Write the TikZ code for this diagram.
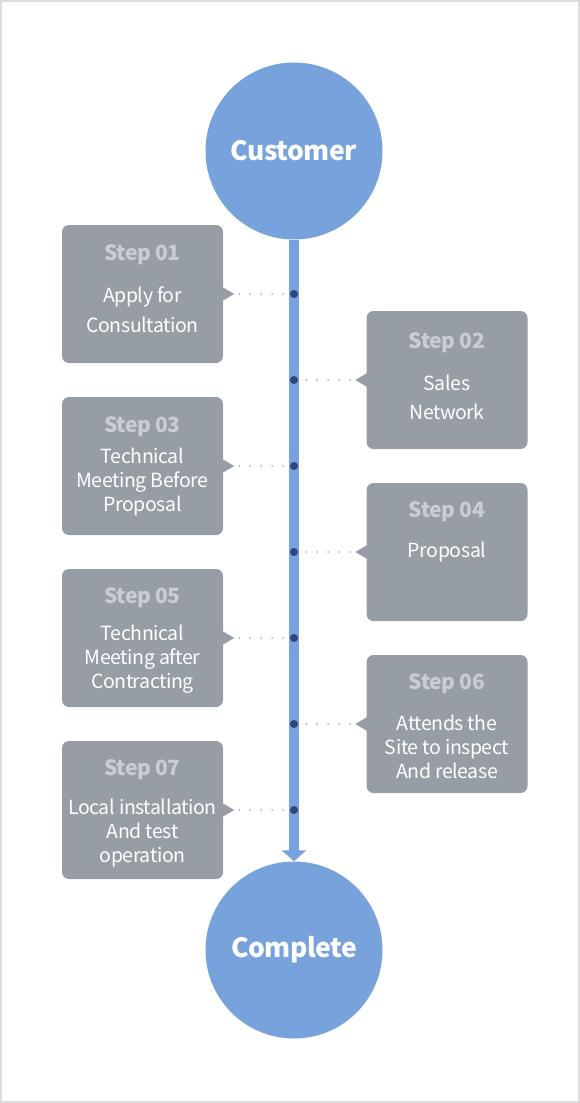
\documentclass[tikz,border=0pt]{standalone}
\usepackage{fontspec}
\setmainfont[LetterSpace=-2]{Noto Sans CJK KR}
\usetikzlibrary{arrows.meta,calc,positioning}

\definecolor{flowblue}{HTML}{77A2DB}
\definecolor{stepgray}{HTML}{979DA4}
\definecolor{steplblc}{HTML}{C8CDD2}
\definecolor{dotnavy}{HTML}{2D4679}
\definecolor{leadc}{HTML}{B4C0CD}
\definecolor{framec}{HTML}{DDDDDD}

\begin{document}
\begin{tikzpicture}[
  x=1pt, y=-1pt,
  endpt/.style={circle, fill=flowblue, minimum size=177pt, inner sep=0pt,
                text=white, font=\fontsize{26.5}{30}\selectfont\bfseries},
  stepbox/.style={fill=stepgray, rounded corners=7pt, minimum width=161pt,
                  minimum height=138pt, inner sep=0pt},
  steplbl/.style={text=steplblc, font=\fontsize{21}{24}\selectfont\bfseries,
                  inner sep=0pt},
  steptxt/.style={text=white, font=\fontsize{19.5}{24}\selectfont,
                  align=center, inner sep=0pt},
  dot/.style={circle, fill=dotnavy, inner sep=0pt, minimum size=8pt},
  lead/.style={draw=leadc, line width=2.2pt, line cap=round,
               dash pattern=on 0pt off 11pt, shorten <=5pt, shorten >=6pt},
  flow/.style={draw=flowblue, line width=10pt,
               -{Triangle[width=24pt, length=11pt]}},
  framebox/.style={draw=framec, line width=2pt},
]

% ---------- frame ----------
\useasboundingbox (0,0) rectangle (580,1103);
\draw[framebox] (1,1) rectangle (579,1102);

% ---------- end points ----------
\node[endpt] (cust)  at (294,151) {Customer};
\node[endpt] (compl) at (294,950) {Complete};
\draw[flow] (cust.south) -- (compl.north);

% ---------- dots on the main line ----------
\node[dot] (d1) at (294,294) {};
\node[dot] (d2) at (294,380) {};
\node[dot] (d3) at (294,466) {};
\node[dot] (d4) at (294,552) {};
\node[dot] (d5) at (294,638) {};
\node[dot] (d6) at (294,724) {};
\node[dot] (d7) at (294,810) {};

% ---------- left steps ----------
\node[stepbox] (s1) at (142.5,294) {};
\node[stepbox] (s3) at (142.5,466) {};
\node[stepbox] (s5) at (142.5,638) {};
\node[stepbox] (s7) at (142.5,810) {};

\coordinate (t1) at ($(s1.east)+(11,0)$);
\coordinate (t3) at ($(s3.east)+(11,0)$);
\coordinate (t5) at ($(s5.east)+(11,0)$);
\coordinate (t7) at ($(s7.east)+(11,0)$);
\fill[stepgray] ($(s1.east)+(-1,-7)$) -- (t1) -- ($(s1.east)+(-1,7)$) -- cycle;
\fill[stepgray] ($(s3.east)+(-1,-7)$) -- (t3) -- ($(s3.east)+(-1,7)$) -- cycle;
\fill[stepgray] ($(s5.east)+(-1,-7)$) -- (t5) -- ($(s5.east)+(-1,7)$) -- cycle;
\fill[stepgray] ($(s7.east)+(-1,-7)$) -- (t7) -- ($(s7.east)+(-1,7)$) -- cycle;
\draw[lead] (t1) -- (d1);
\draw[lead] (t3) -- (d3);
\draw[lead] (t5) -- (d5);
\draw[lead] (t7) -- (d7);

\node[steplbl] (l1) at ($(s1.north)+(0,30)$) {Step 01};
\node[steptxt] (x1) at ($(s1.center)+(0,16)$) {Apply for\\[6pt]Consultation};
\node[steplbl] (l3) at ($(s3.north)+(0,30)$) {Step 03};
\node[steptxt] (x3) at ($(s3.center)+(0,16)$) {Technical\\Meeting Before\\Proposal};
\node[steplbl] (l5) at ($(s5.north)+(0,29)$) {Step 05};
\node[steptxt] (x5) at ($(s5.center)+(0,21)$) {Technical\\Meeting after\\Contracting};
\node[steplbl] (l7) at ($(s7.north)+(0,29)$) {Step 07};
\node[steptxt] (x7) at ($(s7.center)+(0,23)$) {Local installation\\And test\\operation};

% ---------- right steps ----------
\node[stepbox] (s2) at (447,380) {};
\node[stepbox] (s4) at (447,552) {};
\node[stepbox] (s6) at (447,724) {};

\coordinate (t2) at ($(s2.west)+(-11,0)$);
\coordinate (t4) at ($(s4.west)+(-11,0)$);
\coordinate (t6) at ($(s6.west)+(-11,0)$);
\fill[stepgray] ($(s2.west)+(1,-7)$) -- (t2) -- ($(s2.west)+(1,7)$) -- cycle;
\fill[stepgray] ($(s4.west)+(1,-7)$) -- (t4) -- ($(s4.west)+(1,7)$) -- cycle;
\fill[stepgray] ($(s6.west)+(1,-7)$) -- (t6) -- ($(s6.west)+(1,7)$) -- cycle;
\draw[lead] (t2) -- (d2);
\draw[lead] (t4) -- (d4);
\draw[lead] (t6) -- (d6);

\node[steplbl] (l2) at ($(s2.north)+(0,32)$) {Step 02};
\node[steptxt] (x2) at ($(s2.center)+(0,17)$) {Sales\\[5pt]Network};
\node[steplbl] (l4) at ($(s4.north)+(0,29)$) {Step 04};
\node[steptxt] (x4) at ($(s4.center)+(0,0)$) {Proposal};
\node[steplbl] (l6) at ($(s6.north)+(0,29)$) {Step 06};
\node[steptxt] (x6) at ($(s6.center)+(0,23)$) {Attends the\\Site to inspect\\And release};

\end{tikzpicture}
\end{document}
